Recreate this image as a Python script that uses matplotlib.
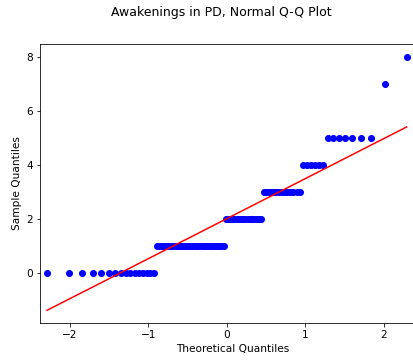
import matplotlib
matplotlib.use("Agg")
import matplotlib.pyplot as plt
import numpy as np
from statistics import NormalDist

# number of awakenings per value (sample)
values = [0, 1, 2, 3, 4, 5, 7, 8]
counts = [16, 28, 17, 14, 6, 7, 1, 1]

sample = np.sort(np.repeat(values, counts))
n = len(sample)

# theoretical quantiles, plotting positions i/(n+1)
pos = np.arange(1, n + 1) / (n + 1)
theo = np.array([NormalDist().inv_cdf(p) for p in pos])

# reference line through the quartiles
q25, q75 = np.percentile(sample, [25, 75])
t25, t75 = NormalDist().inv_cdf(0.25), NormalDist().inv_cdf(0.75)
slope = (q75 - q25) / (t75 - t25)
icpt = q25 - slope * t25

plt.rcParams['font.size'] = 10.5

W, H = 413, 360
fig = plt.figure(figsize=(W / 72, H / 72), dpi=72)
ax = fig.add_axes([40 / W, 37 / H, 384.6 / W, 279 / H])

ax.plot(theo, sample, marker='o', ls='', markerfacecolor='b', markeredgecolor='b', markersize=6)
xx = np.array([theo.min(), theo.max()])
ax.plot(xx, slope * xx + icpt, color='r')

ax.set_xlim(-2.38, 2.52)
ax.set_xticks([-2, -1, 0, 1, 2])
ax.set_yticks([0, 2, 4, 6, 8])
ax.set_xlabel('Theoretical Quantiles')
ax.set_ylabel('Sample Quantiles')
fig.suptitle('Awakenings in PD, Normal Q-Q Plot', x=221 / W, y=1 - 6 / H, fontsize=12.5)

fig.savefig('out.png', dpi=72)
